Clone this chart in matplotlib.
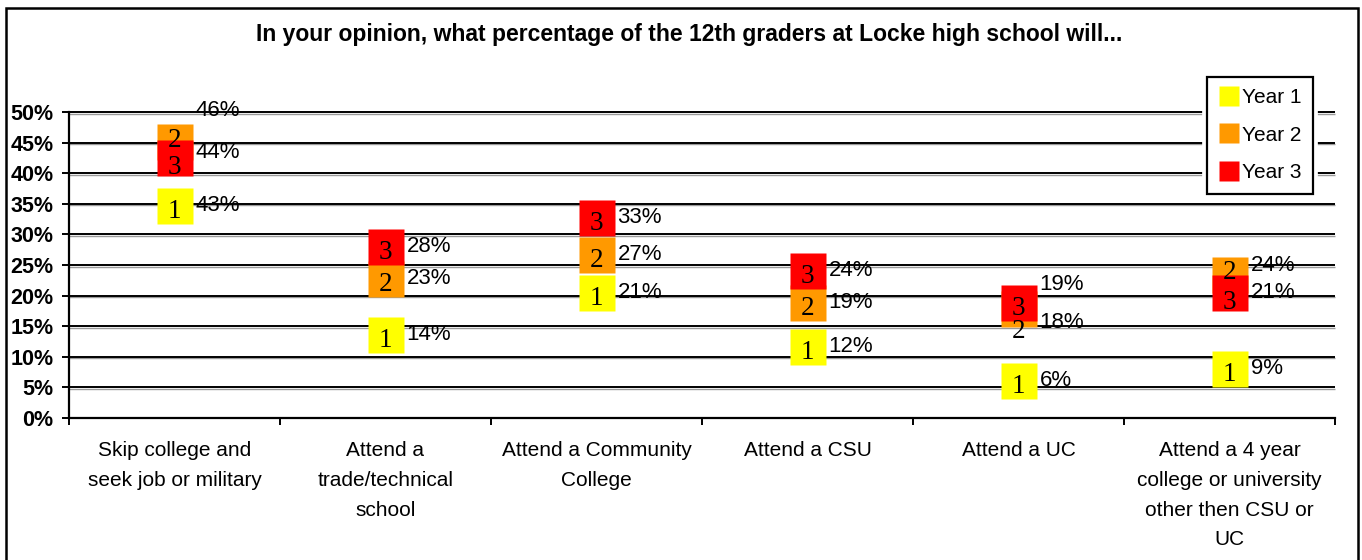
import matplotlib
matplotlib.use("Agg")
import matplotlib.pyplot as plt
from matplotlib.lines import Line2D
from matplotlib.patches import Rectangle
from matplotlib import transforms, patheffects

# ---------------- data ----------------
title = "In your opinion, what percentage of the 12th graders at Locke high school will..."
categories = [
    "Skip college and\nseek job or military",
    "Attend a\ntrade/technical\nschool",
    "Attend a Community\nCollege",
    "Attend a CSU",
    "Attend a UC",
    "Attend a 4 year\ncollege or university\nother then CSU or\nUC",
]
series_names = ["Year 1", "Year 2", "Year 3"]
series_digits = ["1", "2", "3"]
# marker positions as drawn (percent)
year1 = [34.6, 13.6, 20.4, 11.6, 6.0, 8.0]
year2 = [45.1, 22.7, 26.6, 18.8, 17.8, 23.4]
year3 = [42.5, 27.9, 32.7, 24.0, 18.8, 20.5]
# data labels as printed
year1_labels = ["43%", "14%", "21%", "12%", "6%", "9%"]
year2_labels = ["46%", "23%", "27%", "19%", "18%", "24%"]
year3_labels = ["44%", "28%", "33%", "24%", "19%", "21%"]
yticks = [0, 5, 10, 15, 20, 25, 30, 35, 40, 45, 50]

# ---------------- style ----------------
colors = ["#FFFF00", "#FF9900", "#FF0000"]
W, H = 1362, 560
SANS = ["Liberation Sans", "DejaVu Sans"]
SERIF = ["Liberation Serif", "DejaVu Serif"]
# label vertical nudges (screen pixels, + = down), keyed (series, category)
label_nudge = {(1, 0): -31, (1, 4): 14, (1, 5): -9, (2, 0): -5, (2, 4): -18}
digit_nudge = {(1, 0): -7, (2, 0): 4, (1, 4): 17, (1, 5): -8, (2, 5): 4}

fig = plt.figure(figsize=(W / 100, H / 100), dpi=100)
fig.patch.set_facecolor("white")

# outer chart border
fig.add_artist(Rectangle((6 / W, -0.05), (1358 - 6) / W, (1 - 8 / H) + 0.05,
                         transform=fig.transFigure, fill=False,
                         edgecolor="black", linewidth=1.8, zorder=0))

x0, x1, y0, y1 = 69, 1335, 418, 112
ax = fig.add_axes([x0 / W, 1 - y0 / H, (x1 - x0) / W, (y0 - y1) / H])
ax.set_xlim(0, len(categories))
ax.set_ylim(0, 50)
ax.set_facecolor("none")

for s in ["top", "right"]:
    ax.spines[s].set_visible(False)
for s in ["left", "bottom"]:
    ax.spines[s].set_color("black")
    ax.spines[s].set_linewidth(1.6)

# gridlines: black with a gray shadow
shadow = transforms.offset_copy(ax.transData, fig=fig, x=0, y=-1.5, units="dots")
for yv in yticks[1:]:
    ax.plot([0, len(categories)], [yv, yv], color="#9a9a9a", lw=1.0,
            transform=shadow, zorder=1, clip_on=False, solid_capstyle="butt")
    ax.plot([0, len(categories)], [yv, yv], color="black", lw=1.4,
            zorder=1.5, clip_on=False, solid_capstyle="butt")

ax.set_yticks(yticks)
ax.set_yticklabels([f"{v}%" for v in yticks], fontfamily=SANS,
                   fontweight="bold", fontsize=15.5)
ax.tick_params(axis="y", direction="out", length=5, width=1.4, pad=6)

ax.set_xticks(range(len(categories) + 1))
ax.set_xticklabels([])
ax.set_xticks([i + 0.5 for i in range(len(categories))], minor=True)
ax.set_xticklabels(categories, minor=True, fontfamily=SANS, fontsize=15,
                   linespacing=1.72)
ax.tick_params(axis="x", which="major", direction="out", length=5, width=1.4)
ax.tick_params(axis="x", which="minor", length=0, pad=16.5)

series = [year1, year2, year3]
labels = [year1_labels, year2_labels, year3_labels]
xs = [i + 0.5 for i in range(len(categories))]

for s, (vals, col) in enumerate(zip(series, colors)):
    ax.plot(xs, vals, linestyle="none", marker="s", markersize=26,
            markerfacecolor=col, markeredgecolor="none", zorder=3 + s,
            clip_on=False)

for s, (vals, labs) in enumerate(zip(series, labels)):
    for i, (x, v, lab) in enumerate(zip(xs, vals, labs)):
        dy = -3 + label_nudge.get((s, i), 0)
        ax.annotate(lab, (x, v), xytext=(21, -(dy + 8)),
                    textcoords="offset pixels", ha="left", va="baseline",
                    fontsize=16, fontfamily=SANS, color="black", zorder=7,
                    annotation_clip=False)
        ddy = 3 + digit_nudge.get((s, i), 0)
        ax.annotate(series_digits[s], (x, v), xytext=(0, -(ddy + 9)),
                    textcoords="offset pixels", ha="center", va="baseline",
                    fontsize=19.5, fontfamily=SERIF, color="black", zorder=8,
                    annotation_clip=False)

# title
fig.text(689 / W, 1 - 41 / H, title, ha="center", va="baseline",
         fontsize=16.5, fontweight="bold", fontfamily=SANS)

# legend
handles = [Line2D([], [], linestyle="none", marker="s", markersize=14.5,
                  markerfacecolor=c, markeredgecolor="none") for c in colors]
leg = fig.legend(handles, series_names, loc="upper right",
                 bbox_to_anchor=(1313 / W, 1 - 77 / H),
                 bbox_transform=fig.transFigure, frameon=True, fancybox=False,
                 prop={"family": SANS, "size": 15}, handlelength=1.0,
                 handletextpad=0.15, labelspacing=0.88, borderpad=0.55,
                 borderaxespad=0)
fr = leg.get_frame()
fr.set_edgecolor("black")
fr.set_linewidth(1.6)
fr.set_facecolor("white")
fr.set_alpha(1)
fr.set_path_effects([patheffects.withStroke(linewidth=7, foreground="white")])
leg.set_zorder(20)

fig.savefig("out.png", dpi=100)
